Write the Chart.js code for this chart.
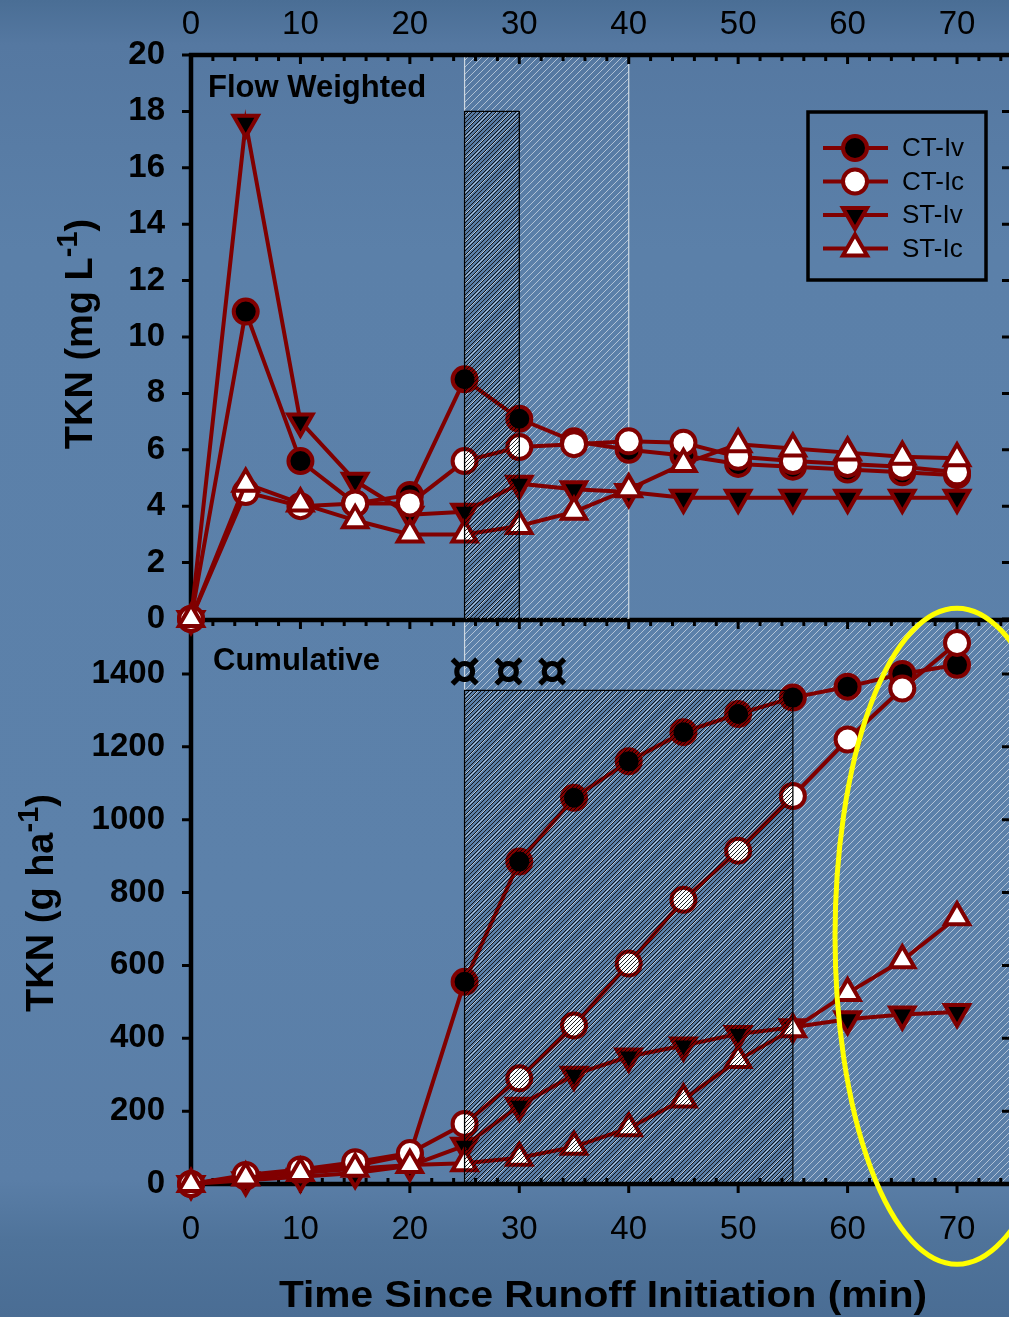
<!DOCTYPE html>
<html>
<head>
<meta charset="utf-8">
<title>TKN</title>
<script src="https://cdn.jsdelivr.net/npm/chart.js@4.4.1/dist/chart.umd.min.js"></script>
<style>
  html, body { margin: 0; padding: 0; overflow: hidden; }
  body {
    width: 1009px; height: 1317px; position: relative;
    background: linear-gradient(180deg, #4a6e95 0px, #5578a1 45px, #5b80a9 250px, #5c81aa 900px, #5a7ea7 1180px, #4f739a 1240px, #4a6d94 1317px);
  }
  canvas { position: absolute; left: 0; }
  #graficoFluxo { top: 0; z-index: 2; }
  #graficoAcumulado { top: 560px; z-index: 1; }
</style>
</head>
<body>
<canvas id="graficoFluxo" width="1009" height="690"></canvas>
<canvas id="graficoAcumulado" width="1009" height="757"></canvas>
<script>
// Tempo desde o início do escoamento (min)
const tempo = [0, 5, 10, 15, 20, 25, 30, 35, 40, 45, 50, 55, 60, 65, 70];
const ticksTempo = [0, 10, 20, 30, 40, 50, 60, 70];
const ticksFluxo = [0, 2, 4, 6, 8, 10, 12, 14, 16, 18, 20];
const ticksAcumulado = [0, 200, 400, 600, 800, 1000, 1200, 1400];

// TKN ponderado pelo fluxo (mg/L)
const fluxoCTIv = [0, 10.9, 5.6, 4.1, 4.4, 8.5, 7.1, 6.3, 6.0, 5.8, 5.5, 5.4, 5.3, 5.2, 5.1];
const fluxoCTIc = [0, 4.5, 4.0, 4.1, 4.1, 5.6, 6.1, 6.2, 6.3, 6.25, 5.75, 5.6, 5.5, 5.4, 5.2];
const fluxoSTIv = [0, 17.6, 7.0, 4.9, 3.7, 3.8, 4.8, 4.6, 4.5, 4.3, 4.3, 4.3, 4.3, 4.3, 4.3];
const fluxoSTIc = [0, 4.8, 4.1, 3.5, 3.0, 3.0, 3.3, 3.8, 4.6, 5.5, 6.2, 6.05, 5.9, 5.75, 5.7];

// TKN acumulado (g/ha)
const acumCTIv = [0, 20, 35, 50, 80, 555, 885, 1060, 1160, 1240, 1290, 1335, 1365, 1400, 1425];
const acumCTIc = [0, 25, 40, 60, 85, 165, 290, 435, 605, 780, 915, 1065, 1220, 1360, 1485];
const acumSTIv = [0, 10, 20, 30, 50, 105, 215, 300, 350, 380, 412, 430, 452, 465, 472];
const acumSTIc = [0, 18, 30, 42, 52, 57, 72, 102, 153, 232, 340, 425, 524, 614, 732];

// Faixas hachuradas (min) e marcas de significância
const faixaClaraFluxo = [25, 40];
const faixaEscuraFluxo = [25, 30, 18];
const faixaClaraAcum = [25, 75];
const faixaEscuraAcum = [25, 55, 1355];
const marcasSig = [25, 29, 33];
const nivelMarcas = 1400;
const centroElipse = [70, 680];

const vermelho = '#800000';
const fonte = "'Liberation Sans', Arial, Helvetica, sans-serif";
const ordemLegenda = ['CT-Iv', 'CT-Ic', 'ST-Iv', 'ST-Ic'];

function criarHachura(passo, cor, largura) {
  const c = document.createElement('canvas');
  c.width = passo; c.height = passo;
  const g = c.getContext('2d');
  g.strokeStyle = cor;
  g.lineWidth = largura;
  g.beginPath();
  g.moveTo(-1, 1); g.lineTo(1, -1);
  g.moveTo(0, passo); g.lineTo(passo, 0);
  g.moveTo(passo - 1, passo + 1); g.lineTo(passo + 1, passo - 1);
  g.stroke();
  return g.createPattern(c, 'repeat');
}
const hachuraClara = criarHachura(7, 'rgba(235,240,245,0.6)', 1);
const hachuraEscura = criarHachura(4, 'rgba(0,0,0,0.85)', 1);

function pontos(valores) {
  return tempo.map((t, i) => ({ x: t, y: valores[i] }));
}

function serie(nome, valores, preenchimento, estilo, rotacao) {
  const raio = estilo === 'circle' ? 12 : 14;
  return {
    label: nome,
    data: pontos(valores),
    borderColor: vermelho,
    borderWidth: 4,
    backgroundColor: preenchimento,
    pointStyle: estilo,
    pointRotation: rotacao,
    pointRadius: raio,
    pointHoverRadius: raio,
    pointBorderWidth: 4,
    pointBorderColor: vermelho,
    pointBackgroundColor: preenchimento,
    tension: 0,
    clip: false
  };
}

// o eixo direito fica logo além da borda da imagem, como no original
function escalaX(posicao, altura, padding) {
  return {
    type: 'linear', position: posicao, min: 0, max: 74.75,
    afterBuildTicks: s => { s.ticks = ticksTempo.map(v => ({ value: v })); },
    afterFit: s => { s.height = altura; s.paddingLeft = 0; s.paddingRight = 0; },
    grid: { display: false, drawTicks: false },
    border: { display: false },
    ticks: { color: '#000', font: { family: fonte, size: 33 }, padding: padding, maxRotation: 0, autoSkip: false,
             callback: v => String(v) }
  };
}

function escalaY(max, valores) {
  return {
    type: 'linear', position: 'left', min: 0, max: max,
    afterBuildTicks: s => { s.ticks = valores.map(v => ({ value: v })); },
    afterFit: s => { s.width = 191; },
    grid: { display: false, drawTicks: false },
    border: { display: false },
    ticks: { color: '#000', font: { family: fonte, size: 33, weight: 'bold' }, padding: 26, autoSkip: false,
             callback: v => String(v) }
  };
}

// Faixas hachuradas: clara por baixo dos dados, escura por cima
const faixas = {
  id: 'faixas',
  beforeDatasetsDraw(chart, args, o) {
    const { ctx, chartArea: a, scales: { x } } = chart;
    const x0 = x.getPixelForValue(o.clara[0]);
    const x1 = Math.min(x.getPixelForValue(o.clara[1]), a.right);
    ctx.save();
    ctx.fillStyle = hachuraClara;
    ctx.fillRect(x0, a.top, x1 - x0, a.bottom - a.top);
    ctx.strokeStyle = 'rgba(225,230,235,0.85)';
    ctx.lineWidth = 1.2;
    ctx.beginPath();
    ctx.moveTo(x0, a.top); ctx.lineTo(x0, a.bottom);
    if (x1 < a.right) { ctx.moveTo(x1, a.top); ctx.lineTo(x1, a.bottom); }
    ctx.stroke();
    ctx.restore();
  },
  afterDatasetsDraw(chart, args, o) {
    const { ctx, chartArea: a, scales: { x, y } } = chart;
    const x0 = x.getPixelForValue(o.escura[0]);
    const x1 = x.getPixelForValue(o.escura[1]);
    const yt = y.getPixelForValue(o.escura[2]);
    ctx.save();
    ctx.fillStyle = hachuraEscura;
    ctx.fillRect(x0, yt, x1 - x0, a.bottom - yt);
    ctx.strokeStyle = '#000';
    ctx.lineWidth = 1.3;
    ctx.beginPath();
    ctx.moveTo(x0, a.bottom); ctx.lineTo(x0, yt); ctx.lineTo(x1, yt); ctx.lineTo(x1, a.bottom);
    ctx.stroke();
    ctx.restore();
  }
};

// Eixos com marcas maiores e menores
const moldura = {
  id: 'moldura',
  beforeDatasetsDraw(chart, args, o) {
    const { ctx, chartArea: a, scales: { x, y } } = chart;
    ctx.save();
    ctx.strokeStyle = '#000';
    ctx.lineWidth = 4.5;
    ctx.beginPath();
    ctx.moveTo(a.left, a.top - 2); ctx.lineTo(a.left, a.bottom + 2);
    o.bordas.forEach(b => {
      const yy = b.lado === 'top' ? a.top : a.bottom;
      ctx.moveTo(a.left - 2, yy); ctx.lineTo(a.right, yy);
    });
    ctx.stroke();
    ctx.lineWidth = 3;
    ctx.beginPath();
    y.ticks.forEach(t => {
      const py = y.getPixelForValue(t.value);
      ctx.moveTo(a.left - 9, py); ctx.lineTo(a.left, py);
      ctx.moveTo(a.right - 7, py); ctx.lineTo(a.right, py);
    });
    o.bordas.forEach(b => {
      const yy = b.lado === 'top' ? a.top : a.bottom;
      for (let v = x.min; v <= x.max; v += 2) {
        const px = x.getPixelForValue(v);
        const d = v % 10 === 0 ? b.maior : b.menor;
        ctx.moveTo(px, yy + d[0]); ctx.lineTo(px, yy + d[1]);
      }
    });
    ctx.stroke();
    ctx.restore();
  }
};

function tituloVertical(ctx, xBase, yCentro, texto, sup, fim) {
  ctx.save();
  ctx.translate(xBase, yCentro);
  ctx.rotate(-Math.PI / 2);
  ctx.fillStyle = '#000';
  ctx.textBaseline = 'alphabetic';
  ctx.textAlign = 'left';
  const fN = 'bold 38px ' + fonte, fS = 'bold 29px ' + fonte;
  ctx.font = fN; const w1 = ctx.measureText(texto).width; const w3 = ctx.measureText(fim).width;
  ctx.font = fS; const w2 = ctx.measureText(sup).width;
  let p = -(w1 + w2 + w3) / 2;
  ctx.font = fN; ctx.fillText(texto, p, 0); p += w1;
  ctx.font = fS; ctx.fillText(sup, p, -15); p += w2;
  ctx.font = fN; ctx.fillText(fim, p, 0);
  ctx.restore();
}

const textosFluxo = {
  id: 'textosFluxo',
  afterDraw(chart) {
    const { ctx, chartArea: a } = chart;
    ctx.save();
    ctx.fillStyle = '#000';
    ctx.font = 'bold 31px ' + fonte;
    ctx.textBaseline = 'alphabetic';
    ctx.fillText('Flow Weighted', a.left + 17, a.top + 42);
    ctx.restore();
    tituloVertical(ctx, 92, (a.top + a.bottom) / 2 - 3, 'TKN (mg L', '-1', ')');

    // legenda
    const bx = a.right - 201, by = a.top + 57, bw = 178, bh = 168;
    ctx.save();
    ctx.strokeStyle = '#000';
    ctx.lineWidth = 3.5;
    ctx.strokeRect(bx, by, bw, bh);
    ordemLegenda.forEach((nome, i) => {
      const ds = chart.data.datasets.find(d => d.label === nome);
      const ly = by + 36 + i * 33.5;
      ctx.strokeStyle = vermelho;
      ctx.lineWidth = 4;
      ctx.beginPath();
      ctx.moveTo(bx + 15, ly); ctx.lineTo(bx + 80, ly);
      ctx.stroke();
      ctx.fillStyle = ds.pointBackgroundColor;
      Chart.helpers.drawPoint(ctx, {
        pointStyle: ds.pointStyle, radius: ds.pointRadius,
        rotation: ds.pointRotation, borderWidth: 4
      }, bx + 47, ly);
      ctx.fillStyle = '#000';
      ctx.font = '26px ' + fonte;
      ctx.textBaseline = 'middle';
      ctx.fillText(nome, bx + 94, ly + 1);
    });
    ctx.restore();
  }
};

const textosAcum = {
  id: 'textosAcum',
  afterDraw(chart) {
    const { ctx, chartArea: a, scales: { x, y } } = chart;
    ctx.save();
    ctx.fillStyle = '#000';
    ctx.font = 'bold 31px ' + fonte;
    ctx.textBaseline = 'alphabetic';
    ctx.fillText('Cumulative', a.left + 22, a.top + 50);

    ctx.font = "bold 50px 'DejaVu Sans', " + fonte;
    ctx.textAlign = 'center';
    ctx.textBaseline = 'middle';
    marcasSig.forEach(v => {
      ctx.fillText('\u00a4', x.getPixelForValue(v), y.getPixelForValue(nivelMarcas));
    });

    // título do eixo x, levemente esticado como no original
    ctx.font = 'bold 37px ' + fonte;
    ctx.textBaseline = 'alphabetic';
    ctx.translate(603, a.bottom + 123);
    ctx.scale(1.1, 1);
    ctx.fillText('Time Since Runoff Initiation (min)', 0, 0);
    ctx.restore();

    tituloVertical(ctx, 53, (a.top + a.bottom) / 2 + 1, 'TKN (g ha', '-1', ')');

    ctx.save();
    ctx.strokeStyle = '#ffff00';
    ctx.lineWidth = 5;
    ctx.beginPath();
    ctx.ellipse(x.getPixelForValue(centroElipse[0]), y.getPixelForValue(centroElipse[1]), 122, 328, 0, 0, Math.PI * 2);
    ctx.stroke();
    ctx.restore();
  }
};

function opcoes(escalaXcfg, escalaYcfg, padding, faixaClara, faixaEscura, bordas) {
  return {
    responsive: false,
    animation: false,
    devicePixelRatio: 1,
    layout: { padding: padding, autoPadding: false },
    events: [],
    plugins: {
      legend: { display: false },
      tooltip: { enabled: false },
      faixas: { clara: faixaClara, escura: faixaEscura },
      moldura: { bordas: bordas }
    },
    scales: { x: escalaXcfg, y: escalaYcfg }
  };
}

new Chart(document.getElementById('graficoFluxo'), {
  type: 'line',
  data: {
    datasets: [
      serie('ST-Ic', fluxoSTIc, '#ffffff', 'triangle', 0),
      serie('CT-Ic', fluxoCTIc, '#ffffff', 'circle', 0),
      serie('ST-Iv', fluxoSTIv, '#000000', 'triangle', 180),
      serie('CT-Iv', fluxoCTIv, '#000000', 'circle', 0)
    ]
  },
  options: opcoes(
    escalaX('top', 55, 10),
    escalaY(20, ticksFluxo),
    { left: 0, right: 0, top: 0, bottom: 71 },
    faixaClaraFluxo, faixaEscuraFluxo,
    [{ lado: 'top', maior: [0, 9], menor: [0, 6] }]
  ),
  plugins: [faixas, moldura, textosFluxo]
});

new Chart(document.getElementById('graficoAcumulado'), {
  type: 'line',
  data: {
    datasets: [
      serie('ST-Ic', acumSTIc, '#ffffff', 'triangle', 0),
      serie('CT-Ic', acumCTIc, '#ffffff', 'circle', 0),
      serie('ST-Iv', acumSTIv, '#000000', 'triangle', 180),
      serie('CT-Iv', acumCTIv, '#000000', 'circle', 0)
    ]
  },
  options: opcoes(
    escalaX('bottom', 133, 26),
    escalaY(1548, ticksAcumulado),
    { left: 0, right: 0, top: 60, bottom: 0 },
    faixaClaraAcum, faixaEscuraAcum,
    [{ lado: 'top', maior: [0, 9], menor: [0, 6] }, { lado: 'bottom', maior: [0, 9], menor: [-6, 0] }]
  ),
  plugins: [faixas, moldura, textosAcum]
});
</script>
</body>
</html>
